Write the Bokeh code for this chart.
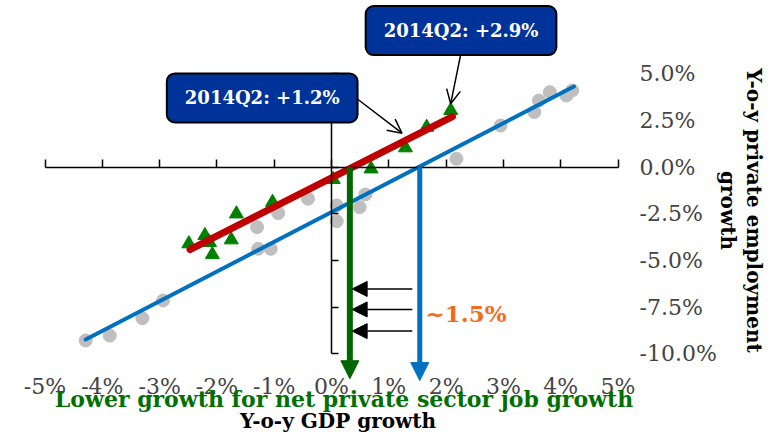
from math import pi
from bokeh.plotting import figure
from bokeh.models import Range1d, LinearAxis, FixedTicker, Label, Arrow, NormalHead, OpenHead
from bokeh.embed import file_html
from bokeh.resources import INLINE

# ---- data ----
x_ticks = [-5, -4, -3, -2, -1, 0, 1, 2, 3, 4, 5]
x_tick_labels = ["-5%", "-4%", "-3%", "-2%", "-1%", "0%", "1%", "2%", "3%", "4%", "5%"]
y_ticks = [-10, -7.5, -5, -2.5, 0, 2.5, 5]
y_tick_labels = ["-10.0%", "-7.5%", "-5.0%", "-2.5%", "0.0%", "2.5%", "5.0%"]

# grey circles: all periods
gdp_all = [-4.29, -3.87, -3.30, -2.94, -1.30, -1.28, -1.06, -0.93, -0.41, 0.09,
           0.09, 0.49, 0.59, 2.18, 2.95, 3.54, 3.62, 3.81, 4.10, 4.20]
emp_all = [-9.29, -9.03, -8.10, -7.15, -3.22, -4.38, -4.38, -2.47, -1.70, -2.06,
           -2.90, -2.15, -1.47, 0.44, 2.22, 2.94, 3.56, 4.01, 3.83, 4.10]

# green triangles: recent periods
gdp_recent = [-2.49, -2.21, -2.13, -2.08, -1.75, -1.66, -1.03, 0.03, 0.69, 1.29, 1.66, 2.08]
emp_recent = [-4.11, -3.67, -4.04, -4.69, -3.90, -2.51, -1.89, -0.67, -0.10, 1.03, 2.13, 3.03]

# trend lines (end points)
trend_all_x = [-4.29, 4.23]
trend_all_y = [-9.24, 4.31]
trend_recent_x = [-2.47, 2.11]
trend_recent_y = [-4.42, 2.70]

# break-even GDP growth (zero employment growth)
breakeven_recent = 0.32
breakeven_all = 1.54

callout_texts = ["2014Q2: +1.2%", "2014Q2: +2.9%"]

GREEN = "#006600"
GREEN_TXT = "#007000"
BLUE = "#0070C0"
RED = "#C00000"
GREY = "#BFBFBF"
TRI = "#008000"
FONT = "DejaVu Serif"

p = figure(width=781, height=432,
           x_range=Range1d(-5.777, 7.853), y_range=Range1d(-14.22, 8.918),
           output_backend="svg", toolbar_location=None,
           x_axis_location=None, y_axis_location=None,
           min_border_left=0, min_border_right=0,
           min_border_top=0, min_border_bottom=0)
p.outline_line_color = None
p.xgrid.visible = False
p.ygrid.visible = False
p.background_fill_color = "white"

# tick-label axes (positioned inside the frame)
xa = LinearAxis(fixed_location=-10.79, ticker=FixedTicker(ticks=x_ticks),
                major_label_overrides={t: s for t, s in zip(x_ticks, x_tick_labels)})
xa.axis_line_color = None
xa.major_tick_line_color = None
xa.minor_tick_line_color = None
xa.major_label_text_font = FONT
xa.major_label_text_font_size = "22px"
xa.major_label_standoff = 0
p.add_layout(xa, "below")

ya = LinearAxis(fixed_location=4.87, ticker=FixedTicker(ticks=y_ticks),
                major_label_overrides={t: s for t, s in zip(y_ticks, y_tick_labels)})
ya.axis_line_color = None
ya.major_tick_line_color = None
ya.minor_tick_line_color = None
ya.major_label_text_font = FONT
ya.major_label_text_font_size = "22px"
ya.major_label_standoff = 23
p.add_layout(ya, "right")

# axis lines crossing at zero
x0 = LinearAxis(fixed_location=0, bounds=(-5, 5), ticker=FixedTicker(ticks=x_ticks),
                major_label_overrides={t: "" for t in x_ticks})
x0.major_tick_in = 8
x0.major_tick_out = 0
x0.minor_tick_line_color = None
x0.major_label_text_font_size = "0px"
x0.major_label_standoff = 0
x0.axis_line_width = 1.5
x0.major_tick_line_width = 1.5
p.add_layout(x0, "below")

y0 = LinearAxis(fixed_location=0, bounds=(-10, 5), ticker=FixedTicker(ticks=y_ticks),
                major_label_overrides={t: "" for t in y_ticks})
y0.major_tick_in = 7
y0.major_tick_out = 0
y0.minor_tick_line_color = None
y0.major_label_text_font_size = "0px"
y0.major_label_standoff = 0
y0.axis_line_width = 1.5
y0.major_tick_line_width = 1.5
p.add_layout(y0, "left")

# points
p.scatter(gdp_all, emp_all, marker="circle", size=13, color=GREY)
p.scatter(gdp_recent, emp_recent, marker="triangle", size=14, color=TRI)

# trend lines
p.line(trend_all_x, trend_all_y, line_width=4, color=BLUE, line_cap="round")
p.line(trend_recent_x, trend_recent_y, line_width=7, color=RED, line_cap="round")

# break-even arrows
p.add_layout(Arrow(end=NormalHead(size=18, fill_color=GREEN, line_color=GREEN),
                   x_start=breakeven_recent, y_start=0, x_end=breakeven_recent, y_end=-11.34,
                   line_width=6, line_color=GREEN))
p.add_layout(Arrow(end=NormalHead(size=18, fill_color=BLUE, line_color=BLUE),
                   x_start=breakeven_all, y_start=0, x_end=breakeven_all, y_end=-11.44,
                   line_width=5, line_color=BLUE))

for yy in [-6.53, -7.63, -8.79]:
    p.add_layout(Arrow(end=NormalHead(size=15, fill_color="black", line_color="black"),
                       x_start=1.41, y_start=yy, x_end=0.36, y_end=yy,
                       line_width=1.5, line_color="black"))

# callouts
p.add_layout(Arrow(end=OpenHead(size=14, line_width=1.5), x_start=0.44, y_start=3.67,
                   x_end=1.23, y_end=1.81, line_width=1.5))
p.add_layout(Arrow(end=OpenHead(size=14, line_width=1.5), x_start=2.25, y_start=5.97,
                   x_end=2.08, y_end=3.39, line_width=1.5))

for (cx, cy), txt in zip([(-1.21, 3.70), (2.26, 7.31)], callout_texts):
    p.add_layout(Label(x=cx, y=cy, text=txt, text_align="center", text_baseline="middle",
                       text_color="white", text_font=FONT, text_font_style="bold",
                       text_font_size="18px", background_fill_color="#003399",
                       border_line_color="black", border_line_width=2,
                       padding=(18, 14), border_radius=8))

p.add_layout(Label(x=1.64, y=-7.83, text="~1.5%", text_align="left", text_baseline="middle",
                   text_color="#F26B1D", text_font=FONT, text_font_style="bold",
                   text_font_size="23px"))

p.add_layout(Label(x=0.218, y=-12.40, text="Lower growth for net private sector job growth",
                   text_align="center", text_baseline="middle", text_color=GREEN_TXT,
                   text_font=FONT, text_font_style="bold", text_font_size="22px"))
p.add_layout(Label(x=0.113, y=-13.63, text="Y-o-y GDP growth",
                   text_align="center", text_baseline="middle", text_color="black",
                   text_font=FONT, text_font_style="bold", text_font_size="20px"))

p.add_layout(Label(x=7.38, y=-2.33, text="Y-o-y private employment", angle=-pi / 2,
                   text_align="center", text_baseline="middle", text_color="black",
                   text_font=FONT, text_font_style="bold", text_font_size="20px"))
p.add_layout(Label(x=6.92, y=-2.33, text="growth", angle=-pi / 2,
                   text_align="center", text_baseline="middle", text_color="black",
                   text_font=FONT, text_font_style="bold", text_font_size="20px"))

with open("out.html", "w", encoding="utf-8") as f:
    f.write(file_html(p, INLINE))
